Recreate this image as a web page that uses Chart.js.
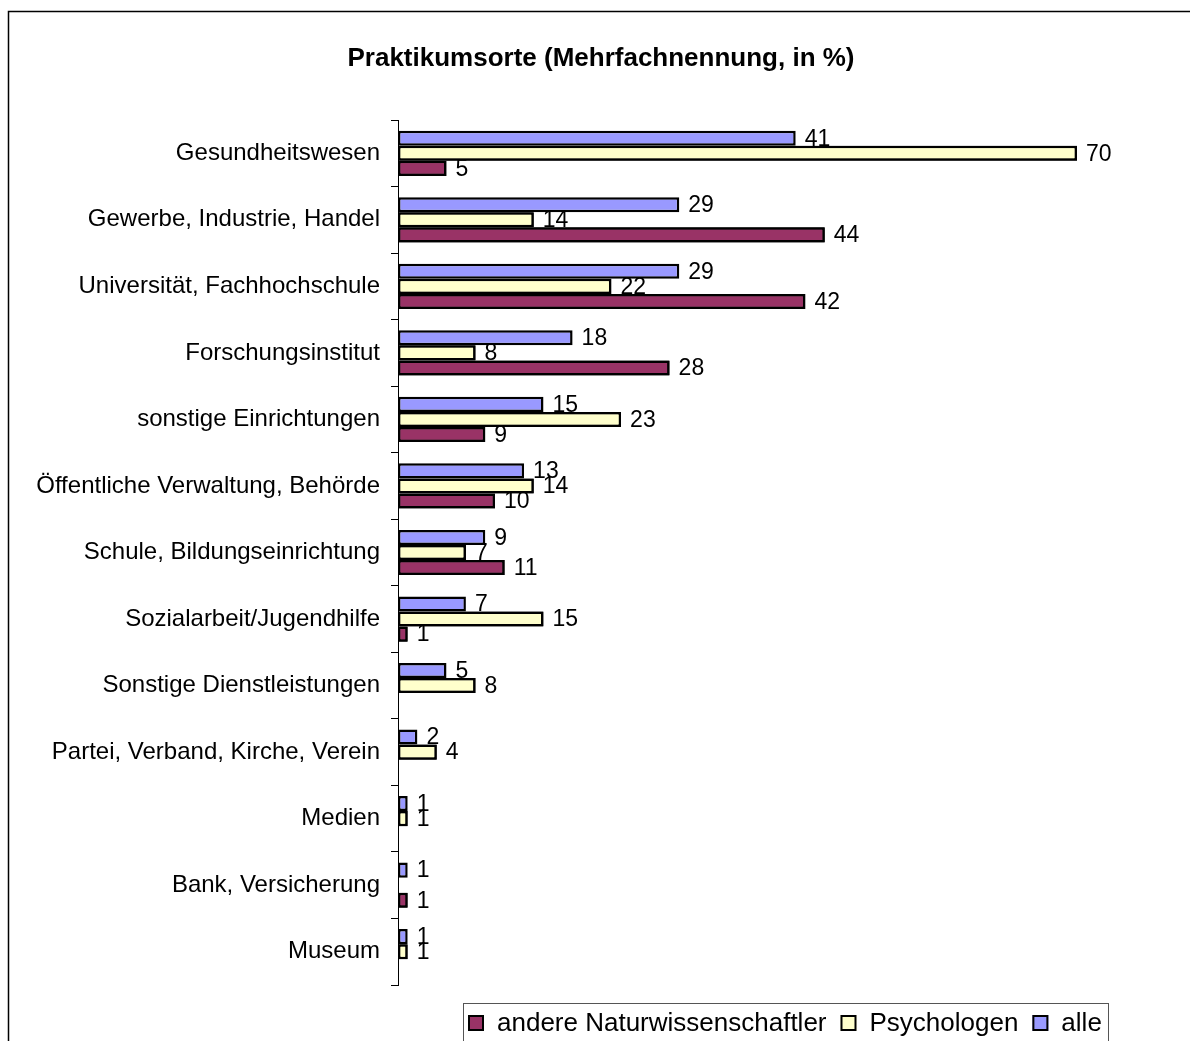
<!DOCTYPE html>
<html>
<head>
<meta charset="utf-8">
<script src="https://cdn.jsdelivr.net/npm/chart.js@4/dist/chart.umd.min.js"></script>
<style>
  html, body { margin: 0; padding: 0; background: #fff; }
  #wrap { width: 1190px; height: 1041px; position: relative; }
</style>
</head>
<body>
<div id="wrap"><canvas id="myChart" width="1190" height="1041"></canvas></div>
<script>
var categories = ["Gesundheitswesen", "Gewerbe, Industrie, Handel", "Universität, Fachhochschule",
  "Forschungsinstitut", "sonstige Einrichtungen", "Öffentliche Verwaltung, Behörde",
  "Schule, Bildungseinrichtung", "Sozialarbeit/Jugendhilfe", "Sonstige Dienstleistungen",
  "Partei, Verband, Kirche, Verein", "Medien", "Bank, Versicherung", "Museum"];

var alle = [41, 29, 29, 18, 15, 13, 9, 7, 5, 2, 1, 1, 1];
var psychologen = [70, 14, 22, 8, 23, 14, 7, 15, 8, 4, 1, null, 1];
var andere = [5, 44, 42, 28, 9, 10, 11, 1, null, null, null, 1, null];

var FONT = "'Liberation Sans', Arial, sans-serif";

// white background + outer frame
var framePlugin = {
  id: 'frame',
  beforeDraw: function(chart) {
    var c = chart.ctx;
    c.save();
    c.fillStyle = '#fff';
    c.fillRect(0, 0, chart.width, chart.height);
    c.strokeStyle = '#000';
    c.lineWidth = 1.5;
    c.strokeRect(8.5, 11.5, 1200, 1100);
    c.restore();
  }
};

// value labels, drawn series by series so the next series' bars cover them (like Excel)
var labelPlugin = {
  id: 'valueLabels',
  afterDatasetsDraw: function(chart) {
    var c = chart.ctx;
    var n = chart.data.datasets.length;
    for (var i = 0; i < n; i++) {
      var meta = chart.getDatasetMeta(i);
      if (i > 0) {
        meta.data.forEach(function(el, j) {
          if (chart.data.datasets[i].data[j] != null) el.draw(c);
        });
      }
      c.save();
      c.font = '23px ' + FONT;
      c.fillStyle = '#000';
      c.textBaseline = 'middle';
      c.textAlign = 'left';
      meta.data.forEach(function(el, j) {
        var v = chart.data.datasets[i].data[j];
        if (v == null) return;
        c.fillText(String(v), el.x + 9, el.y + 1);
      });
      c.restore();
    }
  }
};

// boxed legend at the bottom, series in reverse order
var legendPlugin = {
  id: 'boxLegend',
  afterDraw: function(chart) {
    var c = chart.ctx;
    c.save();
    c.strokeStyle = '#555';
    c.lineWidth = 1;
    c.strokeRect(463.5, 1003.5, 645, 60);
    c.font = '26px ' + FONT;
    c.textBaseline = 'middle';
    var x = 468;
    var ds = chart.data.datasets.slice().reverse();
    ds.forEach(function(d) {
      c.fillStyle = d.backgroundColor;
      c.fillRect(x, 1015, 16, 16);
      c.strokeStyle = '#000';
      c.lineWidth = 2;
      c.strokeRect(x + 1, 1016, 14, 14);
      c.fillStyle = '#000';
      c.fillText(d.label, x + 29, 1024);
      x += 29 + c.measureText(d.label).width + 14;
    });
    c.restore();
  }
};

var ctx = document.getElementById("myChart").getContext('2d');

var myChart = new Chart(ctx, {
  type: 'bar',
  data: {
    labels: categories,
    datasets: [{
      label: 'alle',
      data: alle,
      backgroundColor: '#9999FF',
      borderColor: '#000',
      borderWidth: 2.5,
      borderSkipped: false
    }, {
      label: 'Psychologen',
      data: psychologen,
      backgroundColor: '#FFFFCC',
      borderColor: '#000',
      borderWidth: 2.5,
      borderSkipped: false
    }, {
      label: 'andere Naturwissenschaftler',
      data: andere,
      backgroundColor: '#993366',
      borderColor: '#000',
      borderWidth: 2.5,
      borderSkipped: false
    }]
  },
  options: {
    indexAxis: 'y',
    responsive: false,
    animation: false,
    datasets: { bar: { categoryPercentage: 0.68, barPercentage: 1 } },
    layout: { padding: { top: 43.4, right: 16, bottom: 56, left: 28 } },
    plugins: {
      legend: { display: false },
      tooltip: { enabled: false },
      title: {
        display: true,
        text: 'Praktikumsorte (Mehrfachnennung, in %)',
        color: '#000',
        font: { family: FONT, size: 26, weight: 'bold' },
        padding: { top: 0, bottom: 45.4 }
      }
    },
    scales: {
      x: { display: false, min: 0, max: 80 },
      y: {
        grid: { drawOnChartArea: false, drawTicks: true, tickLength: 7, color: '#000', offset: true },
        border: { color: '#000', width: 1 },
        ticks: { color: '#000', font: { family: FONT, size: 24 }, padding: 11, autoSkip: false },
        afterFit: function(scale) { scale.width = 370; }
      }
    }
  },
  plugins: [framePlugin, labelPlugin, legendPlugin]
});
</script>
</body>
</html>
